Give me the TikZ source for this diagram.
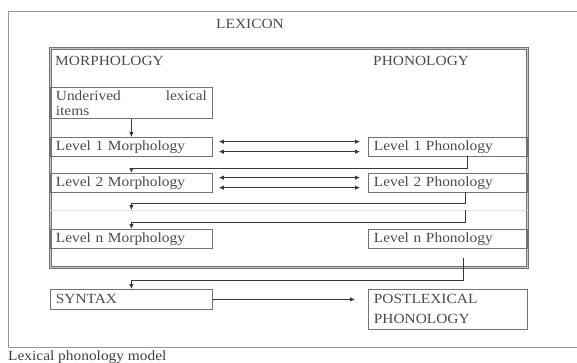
\documentclass[tikz,border=0pt]{standalone}
\usepackage{fontspec}
\setmainfont{Liberation Serif}[FakeStretch=1.1]
\usepackage{tikz}
\usepackage{xcolor}
\usetikzlibrary{calc,arrows.meta,positioning}
\definecolor{linecolor}{RGB}{115,115,115}
\definecolor{framecolor}{RGB}{150,150,150}
\definecolor{arrowcolor}{RGB}{55,55,55}
\definecolor{textcolor}{RGB}{75,75,75}
\definecolor{gapcolor}{RGB}{225,225,225}

\begin{document}
\begin{tikzpicture}[x=1pt, y=-1pt, >={Latex[length=5pt,width=4.5pt]},
  every node/.style={text=textcolor, font=\fontsize{14}{16}\selectfont},
  label/.style={inner sep=0pt},
  leftbox/.style={draw=linecolor, line width=0.8pt, anchor=north west, text width=151pt, inner xsep=5.5pt, inner ysep=0pt, minimum height=18.5pt, align=left},
  rightbox/.style={leftbox, text width=148pt},
  flow/.style={->, draw=arrowcolor, line width=0.8pt},
  twoway/.style={<->, draw=arrowcolor, line width=0.8pt, shorten <=6pt, shorten >=8pt}]

  \useasboundingbox (0,0) rectangle (577,362);

  % Outer frame
  \draw[framecolor, line width=0.9pt] (577,11) -- (8,11) -- (8,347) -- (577,347);
  \node[label] (lexicon) at (250,24) {LEXICON};

  % Lexicon box (double border)
  \node[draw=linecolor, double=gray!45, double distance=1.2pt, line width=0.8pt, anchor=north west, minimum width=477pt, minimum height=219pt, inner sep=0pt] (lexbox) at (50,48) {};
  \node[label, anchor=west] (morph) at (55,61) {MORPHOLOGY};
  \node[label, anchor=west] (phon) at (373,61) {PHONOLOGY};

  % Levels
  \node[leftbox, minimum height=31pt, inner ysep=1pt, font=\fontsize{14}{15}\selectfont] (under) at (50,87) {Underived\hfill lexical\\items};
  \node[leftbox] (lvl1m) at (50,137) {Level 1 Morphology};
  \node[rightbox] (lvl1p) at (368,137) {Level 1 Phonology};
  \node[leftbox] (lvl2m) at (50,173) {Level 2 Morphology};
  \node[rightbox] (lvl2p) at (368,173) {Level 2 Phonology};
  \node[leftbox] (lvlnm) at (50,229) {Level n Morphology};
  \node[rightbox] (lvlnp) at (368,229) {Level n Phonology};

  % Gap between level 2 and level n
  \coordinate (gapw) at (50,210);
  \coordinate (gape) at (527,210);
  \draw[gapcolor, line width=0.8pt] (gapw) -- (gape);

  % After the lexicon
  \node[leftbox, minimum height=20pt] (syntax) at (50,289) {SYNTAX};
  \node[rightbox, minimum height=40pt, font=\fontsize{14}{20}\selectfont] (postlex) at (368,289) {POSTLEXICAL\\PHONOLOGY};

  % Links down the levels
  \draw[flow] (under.south) -- (lvl1m.north);
  \coordinate (out1) at ($(lvl1p.south west)!0.62!(lvl1p.south east)$);
  \draw[flow] (out1) -- ++(0,12) -| (lvl2m.north);
  \coordinate (out2) at ($(lvl2p.south west)!0.61!(lvl2p.south east)$);
  \draw[flow] (out2) -- ++(0,11) -| (lvl2m.south |- gapw);
  \draw[flow] (out2 |- gapw) -- ++(0,12) -| (lvlnm.north);
  \coordinate (outn) at ($(lvlnp.south west)!0.6!(lvlnp.south east)$);
  \draw[flow] ([yshift=-10pt]outn) -- ++(0,22) -| (syntax.north);
  \draw[flow, shorten >=13pt] (syntax.east) -- (postlex.west |- syntax.east);

  % Two-way links
  \draw[twoway] ([yshift=5pt]lvl1m.east) -- ([yshift=5pt]lvl1p.west);
  \draw[twoway] ([yshift=-5pt]lvl1m.east) -- ([yshift=-5pt]lvl1p.west);
  \draw[twoway] ([yshift=5pt]lvl2m.east) -- ([yshift=5pt]lvl2p.west);
  \draw[twoway] ([yshift=-5pt]lvl2m.east) -- ([yshift=-5pt]lvl2p.west);

  % Caption
  \node[label, anchor=base west, text=black!75] (caption) at (8,360) {Lexical phonology model};
\end{tikzpicture}
\end{document}
